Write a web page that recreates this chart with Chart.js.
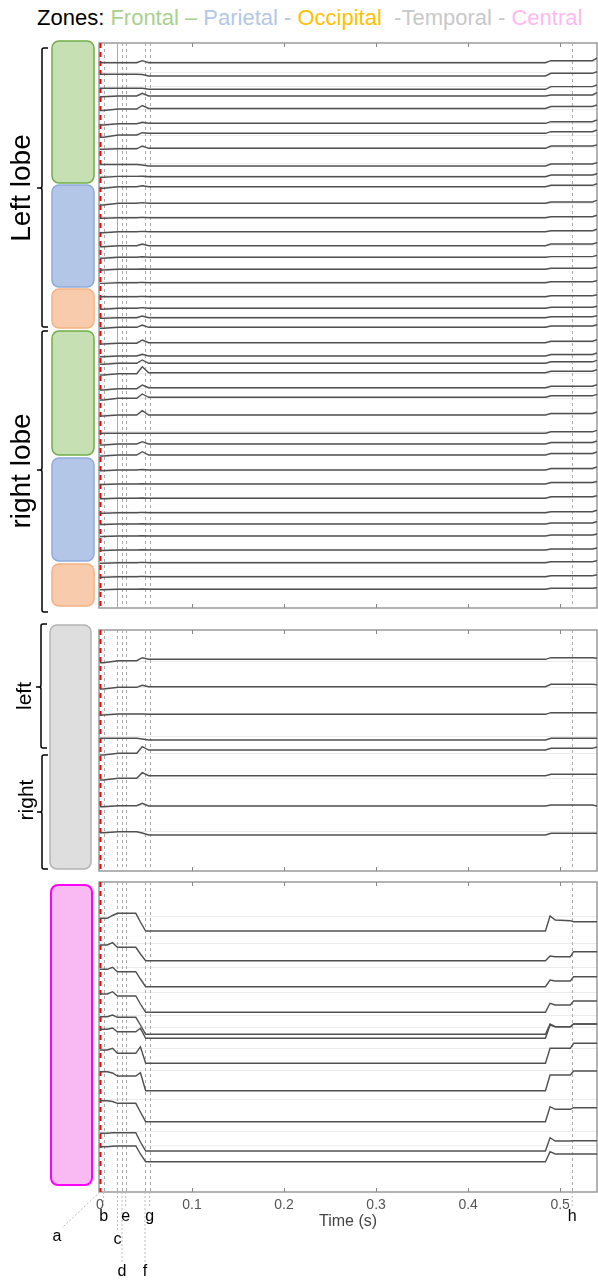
<!DOCTYPE html>
<html>
<head>
<meta charset="utf-8">
<script src="https://cdn.jsdelivr.net/npm/chart.js@4.4.1/dist/chart.umd.min.js"></script>
<style>
    body { margin: 0; background: #fff; width: 598px; height: 1282px; overflow: hidden; position: relative; font-family: "Liberation Sans", Arial, sans-serif; }
    #titulo { position: absolute; top: 5px; left: 37px; font-size: 22px; white-space: pre; }
    canvas { position: absolute; left: 0; }
</style>
</head>
<body>
<div id="titulo"><span style="color:#000">Zones: </span><span style="color:#a9d18e">Frontal – </span><span style="color:#b4c7e7">Parietal - </span><span style="color:#ffc000">Occipital </span><span style="color:#c8c8c8"> -Temporal - </span><span style="color:#ffb8f0">Central</span></div>
<canvas id="grafico1" width="598" height="580" style="top:35px"></canvas>
<canvas id="grafico2" width="598" height="257" style="top:615px"></canvas>
<canvas id="grafico3" width="598" height="410" style="top:872px"></canvas>
<script>
// eje de tiempo (s)
const ticksTiempo = [0, 0.1, 0.2, 0.3, 0.4, 0.5];
const eventos = ['a', 'b', 'c', 'd', 'e', 'f', 'g', 'h'];
const tiemposEventos = [0, 0.004, 0.019, 0.024, 0.028, 0.049, 0.054, 0.513];

// PANEL 1: lobulos (frontal, parietal, occipital)
const tiemposLobulos = [0, 0.004, 0.02, 0.04, 0.046, 0.053, 0.484, 0.49, 0.535, 0.54];
const offsetsLobulos = [19.7, 33, 46.3, 53, 65.5, 80.3, 90.3, 105.3, 123, 133.7, 143.7, 160.3, 174.7, 188.7,
    202.7, 214.3, 226.3, 239.7, 253.7, 265.3, 274.7, 284.3, 299.7, 313, 320.3, 329.7, 344.7, 354.3, 372,
    390.3, 401, 412, 427, 441, 455.3, 469.7, 481, 493, 507, 519.7, 533.7, 546.3];
// [inicio, temprano, pico, tardio, final] respecto al nivel medio del canal
const senalesLobulos = [
    [0, 0, -2, -2, -4.5], [-1.7, -1.7, -1.5, -2.7, -4.3], [-1, -1, -1, -2.7, -4.3], [0.7, 0, -2.7, -1, -3.3],
    [2, 0.5, -3, -2, -3.5], [1.7, 0.5, -1, -1.6, -3.3], [4, 1.7, -0.6, -1.6, -3.3], [1, 0.5, -2.3, -2.3, -3.3],
    [-1.5, -1.5, -1, -2, -3.3], [0.6, -0.3, -0.5, -1.7, -3], [1.6, 0, -1, -1.4, -3], [1.7, 0, -0.7, -1.3, -3],
    [0.6, 0, -0.3, -1, -2.5], [1, 0, -0.3, -1, -2.5], [1, 0, -1.7, -1.7, -3], [1, 0, -0.5, -0.7, -2],
    [0.7, 0, -0.3, -1, -2], [0.7, 0, -0.3, -1, -2], [0, 0, -0.3, -1, -2], [1, 0, -0.7, -1, -2],
    [0.6, 0, -1.7, -1, -2], [1, 0, -2.3, -1.3, -2.5],
    [1.3, 0.5, -2.7, -1.5, -3], [0.7, 0, -1.7, -1.5, -3], [1, 0, -3.3, -1.5, -3], [2.3, 1, -6, -1.5, -3],
    [2.3, 1, -2.7, -1.5, -3], [2.7, 1, -3.3, -1.5, -3], [1, 0, -4.3, -1.5, -3], [0, 0, 0, -1.5, -3],
    [1, 0, -2.3, -1.5, -3], [1, 0, -3.3, -1.5, -3], [0.7, 0, -0.5, -1.5, -3], [0.5, 0, -0.3, -1.5, -2.5],
    [0.5, 0, -0.3, -1.5, -2.5], [0.5, 0, -0.3, -1, -2.5], [0.5, 0, -0.3, -1, -2.5], [0.5, 0, -0.3, -1, -2],
    [0.5, 0, -0.3, -1, -2], [0.5, 0, -0.3, -1, -2], [0.5, 0, -0.3, -1, -2], [0.5, 0, -0.3, -1, -1.5]
];

// PANEL 2: temporal
const offsetsTemporal = [29.3, 56.7, 84.3, 110, 120, 145.7, 176, 205];
const senalesTemporal = [
    [3.4, 1.4, -1.6, -1.6, -1], [2.3, 0.6, -1.4, -2.4, -2], [0.7, -0.3, -0.3, -1.6, -1.6], [-1.7, -1.7, -1, -1.7, -1.7],
    [5, 3.3, -3.3, -1.7, -3], [4.3, 2.6, -3, -1.4, -1.4], [0.7, -0.3, -2.7, -1, 0], [-2.3, -3.3, -2, -1.7, -1.7]
];

// PANEL 3: central
const tiemposCentral = [0, 0.008, 0.0137, 0.019, 0.039, 0.044, 0.0497, 0.484, 0.489, 0.4946, 0.511, 0.5146, 0.54];
const offsetsCentral = [49, 78.7, 104.7, 130.3, 152.3, 156.3, 181.3, 208.7, 239.7, 269, 279.7];
const senalesCentral = [
    [-12.7, -12.7, -15.5, -17.7, -17.7, -9, 0, 0, -15, -11, -10.3, -9.3, -9.3],
    [-15.7, -15.7, -18, -13.4, -13.4, -6.7, 0, 0, -4.7, -4, -4, -9, -9],
    [-17.4, -17.4, -19.4, -15, -15, -7.7, 0, 0, -6.7, -5.7, -5.7, -10, -10],
    [-18.3, -18.3, -20.6, -16.3, -16.3, -8.3, 0, 0, -9, -7.3, -7.3, -11.3, -11.3],
    [-17.6, -17.6, -19.3, -17, -17, -9.3, 0, 0, -10.3, -7.6, -7.6, -10.3, -10.3],
    [-9, -9, -10.3, -6.6, -6.6, -10, 0, 0, -13.3, -11.6, -11.6, -14.3, -14.3],
    [-13.3, -13.3, -15, -10, -10, -16.6, 0, 0, -15, -15, -15, -20, -20],
    [-19, -19, -17.7, -14.7, -14.7, -18, 0, 0, -15.7, -15.7, -15.7, -19.7, -19.7],
    [-21, -21, -20.2, -18.4, -18.4, -9.7, 0, 0, -15, -12.4, -12.4, -14, -14],
    [-17.7, -17.7, -18.3, -18.3, -18.3, -9, 0, 0, -13.3, -10, -10, -10.3, -10.3],
    [-15, -15, -15.4, -15.7, -15.7, -7.7, 0, 0, -10, -7.7, -7.7, -7.7, -7.7]
];

// [inicio, temprano, pico, tardio, final] -> un valor por nudo
const expandirCorta = s => [s[0], s[0], s[1], s[1], s[2], 0, 0, s[3], s[3], s[4]];

const construirTrazas = (tiempos, offsets, senales, expandir) => offsets.map((o, i) => ({
    data: expandir(senales[i]).map((v, k) => ({ x: tiempos[k], y: o + v })),
    borderColor: '#505050',
    borderWidth: 1.4,
    pointRadius: 0,
    fill: false
}));

const dibujarLlave = (ctx, x, y1, y2, ym) => {
    ctx.save();
    ctx.strokeStyle = '#000';
    ctx.lineWidth = 1.5;
    ctx.beginPath();
    ctx.moveTo(x + 6, y1);
    ctx.lineTo(x + 2, y1);
    ctx.quadraticCurveTo(x, y1, x, y1 + 2);
    ctx.lineTo(x, ym - 2);
    ctx.quadraticCurveTo(x, ym, x - 2, ym);
    ctx.lineTo(x - 5, ym);
    ctx.moveTo(x - 2, ym);
    ctx.quadraticCurveTo(x, ym, x, ym + 2);
    ctx.lineTo(x, y2 - 2);
    ctx.quadraticCurveTo(x, y2, x + 2, y2);
    ctx.lineTo(x + 6, y2);
    ctx.stroke();
    ctx.restore();
};

// etiquetas a-h debajo del eje
const etiquetasEventos = [
    { dx: -43, dy: 45 }, { dx: 0, dy: 25 }, { dx: 0, dy: 48 }, { dx: 0, dy: 80 },
    { dx: 0, dy: 25 }, { dx: 0, dy: 80 }, { dx: 0, dy: 25 }, { dx: 0, dy: 25 }
];

const pluginPanel = (cfg) => ({
    id: 'panel',
    beforeDatasetsDraw(chart) {
        const { ctx, chartArea: a, scales: { x } } = chart;
        ctx.save();
        // marco
        ctx.strokeStyle = '#9a9a9a';
        ctx.lineWidth = 1.5;
        ctx.strokeRect(a.left, a.top, a.right - a.left, a.bottom - a.top);
        // ticks hacia adentro
        ctx.lineWidth = 1;
        ctx.strokeStyle = '#888';
        ticksTiempo.slice(1).forEach(t => {
            const px = Math.round(x.getPixelForValue(t)) + 0.5;
            ctx.beginPath();
            ctx.moveTo(px, a.top); ctx.lineTo(px, a.top + 4);
            ctx.moveTo(px, a.bottom); ctx.lineTo(px, a.bottom - 4);
            ctx.stroke();
        });
        // lineas de eventos
        tiemposEventos.forEach((t, i) => {
            const px = Math.round(x.getPixelForValue(t)) + 0.5;
            if (i === 0) {
                ctx.strokeStyle = '#ff0000';
                ctx.lineWidth = 2;
                ctx.setLineDash([5, 4]);
            } else {
                ctx.strokeStyle = '#aaa';
                ctx.lineWidth = 1;
                ctx.setLineDash(cfg.solido === i ? [] : [3, 3]);
            }
            ctx.beginPath();
            ctx.moveTo(px, a.top);
            ctx.lineTo(px, a.bottom);
            ctx.stroke();
        });
        ctx.setLineDash([]);
        // cajas de zonas
        cfg.cajas.forEach(c => {
            ctx.beginPath();
            ctx.roundRect(c.x, c.y - cfg.top, c.w, c.h, 7);
            ctx.fillStyle = c.fill;
            ctx.fill();
            ctx.lineWidth = c.lw || 1.5;
            ctx.strokeStyle = c.stroke;
            ctx.stroke();
        });
        cfg.llaves.forEach(l => dibujarLlave(ctx, l.x, l.y1 - cfg.top, l.y2 - cfg.top, l.ym - cfg.top));
        ctx.fillStyle = '#000';
        ctx.textAlign = 'center';
        ctx.textBaseline = 'middle';
        cfg.textos.forEach(t => {
            ctx.save();
            ctx.font = t.size + 'px "Liberation Sans", Arial, sans-serif';
            ctx.translate(t.x, t.y - cfg.top);
            ctx.rotate(-Math.PI / 2);
            ctx.fillText(t.t, 0, 0);
            ctx.restore();
        });
        ctx.restore();
    },
    afterDraw(chart) {
        if (!cfg.letras) return;
        const { ctx, chartArea: a, scales: { x } } = chart;
        ctx.save();
        ctx.font = '16px "Liberation Sans", Arial, sans-serif';
        ctx.textAlign = 'center';
        ctx.textBaseline = 'middle';
        tiemposEventos.forEach((t, i) => {
            const px = x.getPixelForValue(t);
            const e = etiquetasEventos[i];
            const lx = px + e.dx, ly = a.bottom + e.dy;
            ctx.strokeStyle = '#bbb';
            ctx.lineWidth = 1;
            ctx.setLineDash([2, 2]);
            ctx.beginPath();
            ctx.moveTo(px, a.bottom);
            ctx.lineTo(lx + (e.dx ? 5 : 0), ly - 9);
            ctx.stroke();
            ctx.setLineDash([]);
            ctx.fillStyle = '#000';
            ctx.fillText(eventos[i], lx, ly);
        });
        ctx.restore();
    }
});

const opciones = (yMax, offsets, senales, padding, ejeX) => ({
    responsive: false,
    animation: false,
    layout: { padding },
    plugins: { legend: { display: false }, tooltip: { enabled: false } },
    scales: {
        x: ejeX || { type: 'linear', min: -0.001, max: 0.54, display: false },
        y: {
            min: 0,
            max: yMax,
            reverse: true,
            ticks: { display: false },
            grid: { color: '#ececec', drawTicks: false },
            border: { display: false },
            afterFit: s => { s.width = 0; },
            afterBuildTicks: s => { s.ticks = offsets.map((o, i) => ({ value: o + senales[i][0] - 1.5 })); }
        }
    }
});

const grafico1 = document.getElementById('grafico1').getContext('2d');
const grafico2 = document.getElementById('grafico2').getContext('2d');
const grafico3 = document.getElementById('grafico3').getContext('2d');

// GRÁFICA 1
window.graficaLobulos = new Chart(grafico1, {
    type: 'line',
    data: { datasets: construirTrazas(tiemposLobulos, offsetsLobulos, senalesLobulos, expandirCorta) },
    options: opciones(565, offsetsLobulos, senalesLobulos, { left: 99, right: 1, top: 8, bottom: 7 }),
    plugins: [pluginPanel({
        top: 35,
        solido: 2,
        cajas: [
            { x: 52, y: 41, w: 42, h: 142, fill: '#c6e0b4', stroke: '#70ad47' },
            { x: 52, y: 185, w: 42, h: 102, fill: '#b4c6e7', stroke: '#8eaadb' },
            { x: 52, y: 289, w: 42, h: 39, fill: '#f8cbad', stroke: '#f4b183' },
            { x: 52, y: 331, w: 42, h: 124, fill: '#c6e0b4', stroke: '#70ad47' },
            { x: 52, y: 458, w: 42, h: 103, fill: '#b4c6e7', stroke: '#8eaadb' },
            { x: 52, y: 564, w: 42, h: 42, fill: '#f8cbad', stroke: '#f4b183' }
        ],
        llaves: [{ x: 42, y1: 48, y2: 327, ym: 188 }, { x: 42, y1: 331, y2: 612, ym: 470 }],
        textos: [{ t: 'Left lobe', x: 22, y: 188, size: 28 }, { t: 'right lobe', x: 22, y: 471, size: 28 }]
    })]
});

// GRÁFICA 2
window.graficaTemporal = new Chart(grafico2, {
    type: 'line',
    data: { datasets: construirTrazas(tiemposLobulos, offsetsTemporal, senalesTemporal, expandirCorta) },
    options: opciones(241, offsetsTemporal, senalesTemporal, { left: 99, right: 1, top: 15, bottom: 1 }),
    plugins: [pluginPanel({
        top: 615,
        cajas: [{ x: 50, y: 625, w: 41, h: 244, fill: '#dedede', stroke: '#b4b4b4' }],
        llaves: [{ x: 41, y1: 624, y2: 748, ym: 687 }, { x: 42, y1: 755, y2: 869, ym: 812 }],
        textos: [{ t: 'left', x: 25, y: 696, size: 21 }, { t: 'right', x: 27, y: 800, size: 21 }]
    })]
});

// GRÁFICA 3
window.graficaCentral = new Chart(grafico3, {
    type: 'line',
    data: { datasets: construirTrazas(tiemposCentral, offsetsCentral, senalesCentral, s => s) },
    options: opciones(310, offsetsCentral, senalesCentral, { left: 99, right: 1, top: 10, bottom: 50 }, {
        type: 'linear',
        min: -0.001,
        max: 0.54,
        afterBuildTicks: s => { s.ticks = ticksTiempo.map(v => ({ value: v })); },
        afterFit: s => { s.height = 40; },
        ticks: {
            padding: 5,
            color: '#555',
            font: { family: 'Liberation Sans', size: 14 },
            callback: v => String(v),
            maxRotation: 0
        },
        grid: { display: false, drawTicks: false },
        border: { display: false },
        title: {
            display: true,
            text: 'Time (s)',
            color: '#444',
            font: { family: 'Liberation Sans', size: 16 },
            padding: { top: 0, bottom: 1 }
        }
    }),
    plugins: [pluginPanel({
        top: 872,
        letras: true,
        cajas: [{ x: 51, y: 885, w: 41, h: 300, fill: '#f9b9f3', stroke: '#ff00ff', lw: 2 }],
        llaves: [],
        textos: []
    })]
});
</script>
</body>
</html>
